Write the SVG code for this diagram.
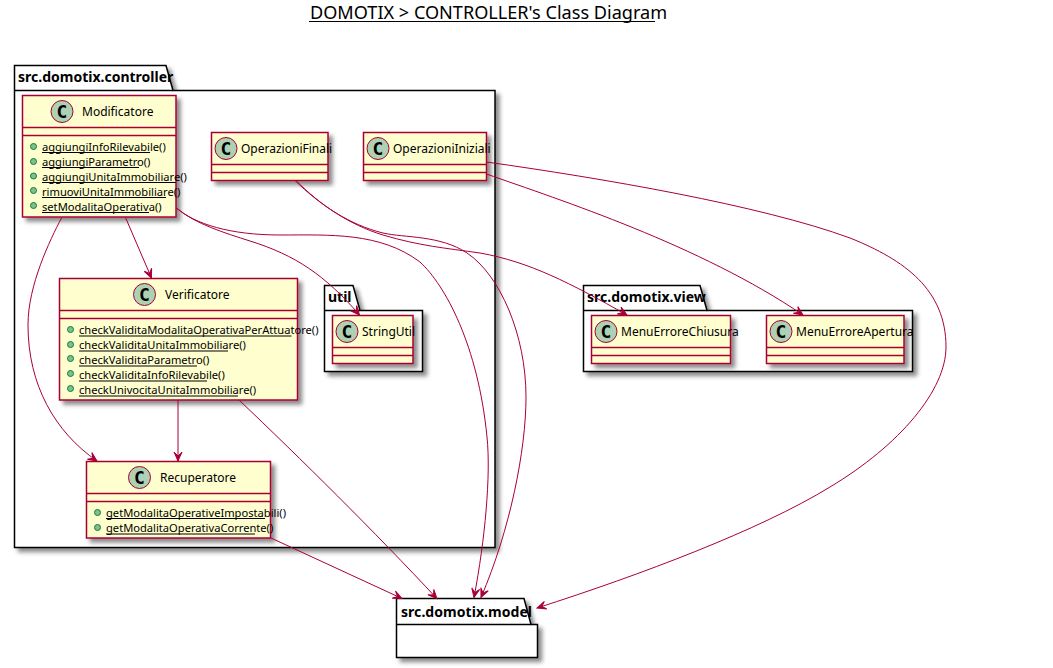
<svg xmlns="http://www.w3.org/2000/svg" width="1053" height="668" viewBox="0 0 1053 668">
<style>
text{font-family:"Noto Sans","DejaVu Sans",sans-serif;fill:#000}
.t{font-size:18.100px}
.p{font-size:14px;font-weight:700}
.n{font-size:12px}
.m{font-size:11.150px}
.c{font-size:18px;font-weight:700;font-family:"DejaVu Sans Mono",monospace;text-anchor:middle}
.pk{fill:#fff;stroke:#000;stroke-width:1.500}
.b{fill:#FEFECE;stroke:#A80036;stroke-width:1.500}
.s{stroke:#A80036;stroke-width:1.500;fill:none}
.i{fill:#ADD1B2;stroke:#A80036}
.d{fill:#84BE84;stroke:#038048}
.u{stroke:#000;stroke-width:1}
.e{fill:none;stroke:#A80036;stroke-width:1}
</style>
<defs>
<filter id="sh" x="-10%" y="-10%" width="125%" height="125%"><feDropShadow dx="4" dy="4" stdDeviation="2" flood-color="#000" flood-opacity=".45"/></filter>
<marker id="a" markerUnits="userSpaceOnUse" markerWidth="12" markerHeight="12" refX="9" refY="4" orient="auto" overflow="visible"><path d="M9 4L0 0L4 4L0 8Z" fill="#A80036" stroke="#A80036"/></marker>
</defs>
<text class="t" x="310" y="19">DOMOTIX &gt; CONTROLLER's Class Diagram</text>
<line class="u" x1="309" y1="21.500" x2="655" y2="21.500"/>

<g id="pkg-controller"><path class="pk" filter="url(#sh)" d="M14.500 90.500V65.500H166L173 90.500H495V547.500H14.500Z"/><path class="pk" d="M14.500 90.500H173"/><text class="p" x="18" y="82">src.domotix.controller</text></g>
<g id="pkg-util"><path class="pk" filter="url(#sh)" d="M324.500 310.500V285.500H353L360 310.500H422.500V371.500H324.500Z"/><path class="pk" d="M324.500 310.500H360"/><text class="p" x="328" y="302">util</text></g>
<g id="pkg-view"><path class="pk" filter="url(#sh)" d="M583.500 310.500V285.500H700L707 310.500H912.500V371.500H583.500Z"/><path class="pk" d="M583.500 310.500H707"/><text class="p" x="587" y="302">src.domotix.view</text></g>
<g id="pkg-model"><path class="pk" filter="url(#sh)" d="M396.500 624.500V598.500H524L531 624.500H537.500V657.500H396.500Z"/><path class="pk" d="M396.500 624.500H531"/><text class="p" x="401" y="617" textLength="131">src.domotix.model</text></g>

<g id="Modificatore"><rect class="b" filter="url(#sh)" x="22.500" y="95.500" width="153.500" height="121.500"/><path class="s" d="M22.500 127.500H176M22.500 135.500H176"/><circle class="i" cx="62" cy="111.500" r="11"/><text class="c" x="62" y="118">C</text><text class="n" x="82" y="116">Modificatore</text>
<circle class="d" cx="33.500" cy="146.500" r="3"/><text class="m" x="42" y="151">aggiungiInfoRilevabile()</text><line class="u" x1="42" y1="152.500" x2="150" y2="152.500"/>
<circle class="d" cx="33.500" cy="161.500" r="3"/><text class="m" x="42" y="166">aggiungiParametro()</text><line class="u" x1="42" y1="167.500" x2="139" y2="167.500"/>
<circle class="d" cx="33.500" cy="176" r="3"/><text class="m" x="42" y="181">aggiungiUnitaImmobiliare()</text><line class="u" x1="42" y1="182.500" x2="176" y2="182.500"/>
<circle class="d" cx="33.500" cy="190.500" r="3"/><text class="m" x="42" y="195.500">rimuoviUnitaImmobiliare()</text><line class="u" x1="42" y1="197.500" x2="166" y2="197.500"/>
<circle class="d" cx="33.500" cy="205.500" r="3"/><text class="m" x="42" y="210.500">setModalitaOperativa()</text><line class="u" x1="42" y1="212.500" x2="149" y2="212.500"/></g>

<g id="OperazioniFinali"><rect class="b" filter="url(#sh)" x="211.500" y="132.500" width="116.500" height="48"/><path class="s" d="M211.500 164.500H328M211.500 172.500H328"/><circle class="i" cx="226" cy="148.500" r="11"/><text class="c" x="226" y="155">C</text><text class="n" x="241" y="153">OperazioniFinali</text></g>
<g id="OperazioniIniziali"><rect class="b" filter="url(#sh)" x="363.500" y="132.500" width="123" height="48"/><path class="s" d="M363.500 164.500H486.500M363.500 172.500H486.500"/><circle class="i" cx="378" cy="148.500" r="11"/><text class="c" x="378" y="155">C</text><text class="n" x="393" y="153">OperazioniIniziali</text></g>

<g id="Verificatore"><rect class="b" filter="url(#sh)" x="59.500" y="278.500" width="238" height="121.500"/><path class="s" d="M59.500 310.500H297.500M59.500 318.500H297.500"/><circle class="i" cx="144.500" cy="294.500" r="11"/><text class="c" x="144.500" y="301">C</text><text class="n" x="165" y="299">Verificatore</text>
<circle class="d" cx="70.500" cy="329.500" r="3"/><text class="m" x="79" y="334">checkValiditaModalitaOperativaPerAttuatore()</text><line class="u" x1="79" y1="336" x2="291.500" y2="336"/>
<circle class="d" cx="70.500" cy="344.500" r="3"/><text class="m" x="79" y="349">checkValiditaUnitaImmobiliare()</text><line class="u" x1="79" y1="351" x2="228" y2="351"/>
<circle class="d" cx="70.500" cy="358.500" r="3"/><text class="m" x="79" y="364">checkValiditaParametro()</text><line class="u" x1="79" y1="366" x2="197" y2="366"/>
<circle class="d" cx="70.500" cy="373.500" r="3"/><text class="m" x="79" y="379">checkValiditaInfoRilevabile()</text><line class="u" x1="79" y1="381" x2="207" y2="381"/>
<circle class="d" cx="70.500" cy="388.500" r="3"/><text class="m" x="79" y="394">checkUnivocitaUnitaImmobiliare()</text><line class="u" x1="79" y1="396" x2="238" y2="396"/></g>

<g id="Recuperatore"><rect class="b" filter="url(#sh)" x="86.500" y="461.500" width="184" height="76.500"/><path class="s" d="M86.500 493.500H270.500M86.500 501.500H270.500"/><circle class="i" cx="139.500" cy="477.500" r="11"/><text class="c" x="139.500" y="484">C</text><text class="n" x="160" y="482">Recuperatore</text>
<circle class="d" cx="97.500" cy="512.500" r="3"/><text class="m" x="106" y="517">getModalitaOperativeImpostabili()</text><line class="u" x1="106" y1="518.500" x2="265" y2="518.500"/>
<circle class="d" cx="97.500" cy="527.500" r="3"/><text class="m" x="106" y="532">getModalitaOperativaCorrente()</text><line class="u" x1="106" y1="534" x2="255" y2="534"/></g>

<g id="StringUtil"><rect class="b" filter="url(#sh)" x="332.500" y="315.500" width="80.500" height="48"/><path class="s" d="M332.500 347.500H413M332.500 355.500H413"/><circle class="i" cx="347" cy="331.500" r="11"/><text class="c" x="347" y="338">C</text><text class="n" x="362" y="336">StringUtil</text></g>
<g id="MenuErroreChiusura"><rect class="b" filter="url(#sh)" x="591.500" y="315.500" width="139" height="48"/><path class="s" d="M591.500 347.500H730.500M591.500 355.500H730.500"/><circle class="i" cx="606" cy="331.500" r="11"/><text class="c" x="606" y="338">C</text><text class="n" x="621" y="336">MenuErroreChiusura</text></g>
<g id="MenuErroreApertura"><rect class="b" filter="url(#sh)" x="766.500" y="315.500" width="137.500" height="48"/><path class="s" d="M766.500 347.500H904M766.500 355.500H904"/><circle class="i" cx="781" cy="331.500" r="11"/><text class="c" x="781" y="338">C</text><text class="n" x="796" y="336">MenuErroreApertura</text></g>

<g id="connectors">
<path class="e" marker-end="url(#a)" d="M125.500 217.500L151.500 278"/>
<path class="e" marker-end="url(#a)" d="M61.500 218C50 240 28 285 28 325C28 385 55 432 97 461"/>
<path class="e" marker-end="url(#a)" d="M178 400V461"/>
<path class="e" marker-end="url(#a)" d="M239.300 400.300C300 458 375 532 437 598.700"/>
<path class="e" marker-end="url(#a)" d="M271 538L402 598.500"/>
<path class="e" marker-end="url(#a)" d="M176.500 208C195 224 230 235 280 235C330 235 380 232 420 262C445 285 478 345 487 437C491 475 485 540 474 597.500"/>
<path class="e" marker-end="url(#a)" d="M176.500 208C195 224 225 233 250 241C295 255 325 275 359.500 315"/>
<path class="e" marker-end="url(#a)" d="M295 180.500C320 205 350 225 383 233C405 238 440 235 467 253C500 275 526 335 526 397C526 450 510 530 481 597.500"/>
<path class="e" marker-end="url(#a)" d="M296 180.500C320 205 350 225 383 235C420 246 445 248 480 253C530 262 570 283 627 315"/>
<path class="e" marker-end="url(#a)" d="M486.500 174C560 200 700 245 803 315"/>
<path class="e" marker-end="url(#a)" d="M486.500 162C600 178 760 205 850 238C905 260 946 290 946 347C946 390 900 445 830 487C760 530 640 575 537 608"/>
</g>
</svg>
